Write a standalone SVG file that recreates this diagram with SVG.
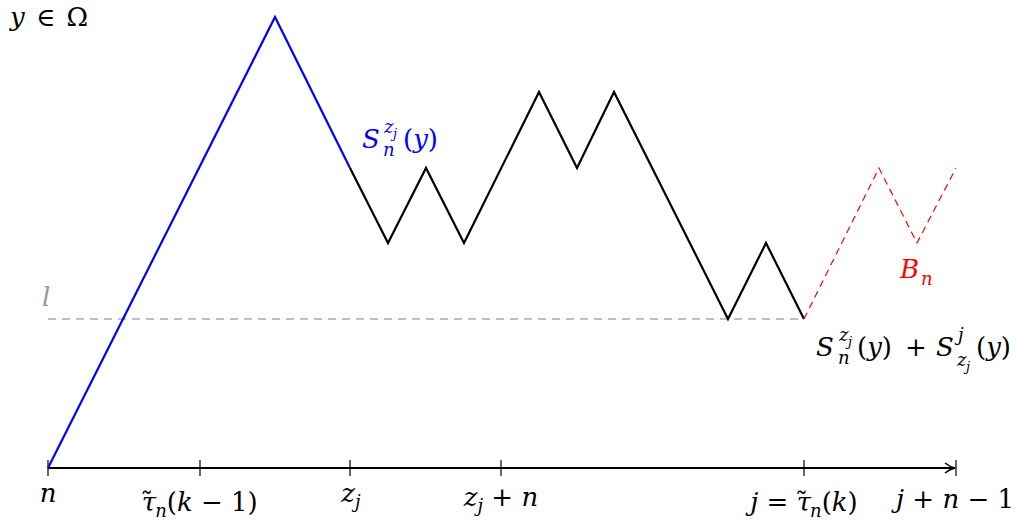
<svg xmlns="http://www.w3.org/2000/svg" width="1029" height="529" viewBox="0 0 1029 529">
<style>
.m{font-family:"DejaVu Serif",serif;font-size:26px;font-style:italic;fill:#000}
.r{font-style:normal}
.s{font-size:18px}
.ss{font-size:13px}
.path{fill:none;stroke-width:2.2;stroke-linejoin:miter}
.tick{stroke:#000;stroke-width:1.2}
.blue{fill:#0000ff}
.red{fill:#ff0000}
.gray{fill:#999999}
</style>
<defs>
<marker id="arr" viewBox="0 0 12 12" refX="11" refY="6" markerWidth="12" markerHeight="12" markerUnits="userSpaceOnUse" orient="auto">
<path d="M1,1 Q6,5 11,6 Q6,7 1,11" fill="none" stroke="#000" stroke-width="1.6"/>
</marker>
</defs>
<g id="connectors">
<line id="level" x1="48" y1="319" x2="804" y2="319" stroke="#808080" stroke-width="1.2" stroke-dasharray="8,6"/>
<line id="axis" x1="48" y1="468" x2="955" y2="468" stroke="#000" stroke-width="2.2" marker-end="url(#arr)"/>
<g id="ticks">
<line class="tick" x1="48" y1="460" x2="48" y2="476"/>
<line class="tick" x1="200" y1="460" x2="200" y2="476"/>
<line class="tick" x1="350" y1="460" x2="350" y2="476"/>
<line class="tick" x1="501" y1="460" x2="501" y2="476"/>
<line class="tick" x1="804" y1="460" x2="804" y2="476"/>
<line class="tick" x1="956" y1="460" x2="956" y2="476"/>
</g>
<polyline id="blue" class="path" stroke="#0000ff" points="48,468 275,17 350,168"/>
<polyline id="black" class="path" stroke="#000" points="350,168 388,243 426,168 464,243 539,92 577,168 614,92 728,319 766,243 804,319"/>
<polyline id="red" fill="none" stroke="#ff0000" stroke-width="1.2" stroke-dasharray="7,5" points="804,319 879,168 917,243 956,168"/>
</g>
<g id="labels">
<text class="m" x="10" y="26" word-spacing="3">y <tspan class="r">∈ Ω</tspan></text>
<text class="m blue"><tspan x="362" y="148">S</tspan><tspan class="s" x="384" y="133">z</tspan><tspan class="ss" x="393" y="138">j</tspan><tspan class="s" x="383" y="156">n</tspan><tspan class="r" x="403" y="148">(</tspan>y<tspan class="r">)</tspan></text>
<text class="m gray" x="42" y="306">l</text>
<text class="m red"><tspan x="900" y="278">B</tspan><tspan class="s" x="921" y="285">n</tspan></text>
<text class="m"><tspan x="816" y="356">S</tspan><tspan class="s" x="839" y="341">z</tspan><tspan class="ss" x="848" y="346">j</tspan><tspan class="s" x="838" y="364">n</tspan><tspan class="r" x="857" y="356">(</tspan>y<tspan class="r">)</tspan><tspan class="r" x="905" y="356">+</tspan><tspan x="936" y="356">S</tspan><tspan class="s" x="958" y="341">j</tspan><tspan class="s" x="957" y="366">z</tspan><tspan class="ss" x="966" y="371">j</tspan><tspan class="r" x="976" y="356">(</tspan>y<tspan class="r">)</tspan></text>
<text class="m" x="48" y="502" text-anchor="middle">n</text>
<text class="m" x="199" y="511" text-anchor="middle">τ<tspan class="r" dx="-16">˜</tspan><tspan class="s" dx="2" dy="6">n</tspan><tspan class="r" dy="-6">(</tspan>k<tspan class="r"> − 1)</tspan></text>
<text class="m" x="351" y="502" text-anchor="middle">z<tspan class="s" dy="6">j</tspan></text>
<text class="m" x="501" y="506" text-anchor="middle">z<tspan class="s" dy="6">j</tspan><tspan class="r" dy="-6"> + </tspan>n</text>
<text class="m" x="804" y="511" text-anchor="middle">j<tspan class="r"> = </tspan>τ<tspan class="r" dx="-16">˜</tspan><tspan class="s" dx="2" dy="6">n</tspan><tspan class="r" dy="-6">(</tspan>k<tspan class="r">)</tspan></text>
<text class="m" x="955" y="508" text-anchor="middle">j<tspan class="r"> + </tspan>n<tspan class="r"> − 1</tspan></text>
</g>
</svg>
